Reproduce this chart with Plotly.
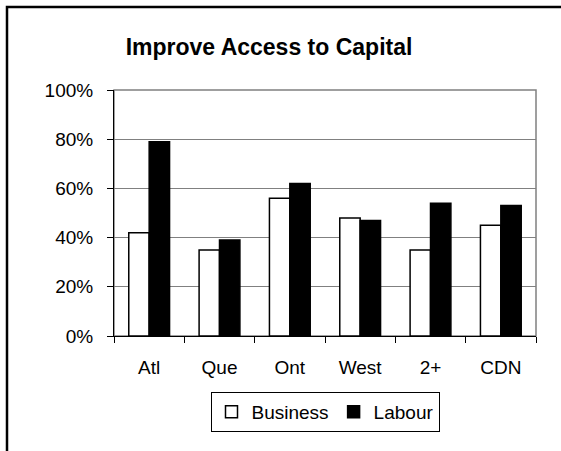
import plotly.graph_objects as go

categories = ["Atl", "Que", "Ont", "West", "2+", "CDN"]
business = [0.42, 0.35, 0.56, 0.48, 0.35, 0.45]
labour = [0.79, 0.39, 0.62, 0.47, 0.54, 0.53]
title_text = "Improve Access to Capital"

W, H = 561, 451
ML, MR, MT, MB = 114, 25, 90, 115
pw, ph = W - ML - MR, H - MT - MB

FONT = "Liberation Sans, Arial, sans-serif"

fig = go.Figure()
fig.add_trace(go.Bar(x=categories, y=business, name="Business",
                     marker=dict(color="white", line=dict(color="black", width=1.5))))
fig.add_trace(go.Bar(x=categories, y=labour, name="Labour",
                     marker=dict(color="black", line=dict(color="black", width=1.5))))

def px_x(x):
    return (x - ML) / pw

def px_y(y):
    return 1 - (y - MT) / ph

fig.update_layout(
    width=W, height=H,
    margin=dict(l=ML, r=MR, t=MT, b=MB, autoexpand=False),
    paper_bgcolor="white", plot_bgcolor="white",
    font=dict(family=FONT, size=19, color="black"),
    barmode="group", bargap=0.42, bargroupgap=0,
    title=dict(text="<b>" + title_text + "</b>", x=269 / W, xanchor="center",
               y=1 - 47 / H, yanchor="middle", font=dict(size=23, family=FONT)),
    showlegend=True,
    legend=dict(orientation="h", x=0.5, xanchor="center", y=px_y(392), yanchor="top",
                bordercolor="black", borderwidth=1, bgcolor="white",
                font=dict(size=19), itemwidth=30, traceorder="normal"),
    xaxis=dict(showline=True, linecolor="black", linewidth=1, ticks="outside",
               tickson="boundaries", ticklen=6, tickcolor="black", showgrid=False,
               ticklabelstandoff=14),
    yaxis=dict(range=[0, 1], dtick=0.2, tickformat=".0%", showline=True,
               linecolor="black", linewidth=1, ticks="outside", ticklen=6,
               tickcolor="black", showgrid=True, gridcolor="#808080", gridwidth=1,
               zeroline=False, ticklabelstandoff=10),
    shapes=[
        dict(type="rect", xref="paper", yref="paper", x0=0, x1=1, y0=0, y1=1,
             line=dict(color="#808080", width=1.5), layer="below"),
        dict(type="rect", xref="paper", yref="paper",
             x0=px_x(7), x1=px_x(W + 20), y0=px_y(H + 20), y1=px_y(7),
             line=dict(color="black", width=2.5), layer="above"),
    ],
)

fig.write_html("out.html", config={"displayModeBar": False},
               post_script="document.body.style.margin='0px';")
